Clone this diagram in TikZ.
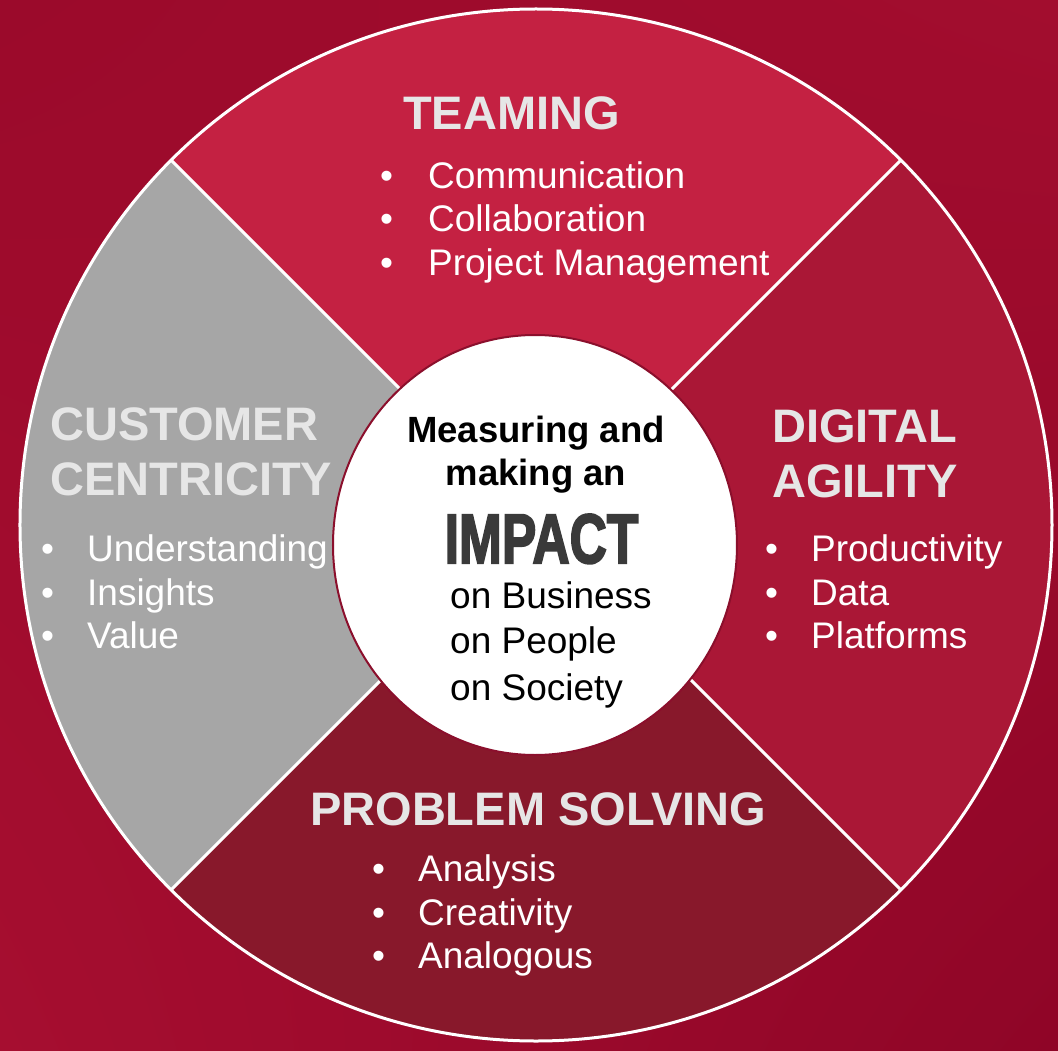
\documentclass[tikz,border=0pt]{standalone}
\usepackage{fontspec}
\setmainfont{Liberation Sans}
\newfontfamily\impactfont{Liberation Sans}[FakeBold=3]
\usepackage{tikz}
\usetikzlibrary{positioning}
\usetikzlibrary{shadings}
\definecolor{bgTL}{HTML}{9B0A2B}
\definecolor{bgTR}{HTML}{A20D2E}
\definecolor{bgBL}{HTML}{A60E30}
\definecolor{bgBR}{HTML}{8F0527}
\definecolor{teamred}{HTML}{C42142}
\definecolor{digitalred}{HTML}{AA1736}
\definecolor{problemred}{HTML}{88182B}
\definecolor{custgray}{HTML}{A6A6A6}
\definecolor{ringred}{HTML}{8B0F2C}
\definecolor{headgray}{HTML}{E6E6E6}
\definecolor{impactgray}{HTML}{3A3A3A}

\begin{document}
\begin{tikzpicture}[x=1pt, y=1pt,
		heading/.style={anchor=base west, inner sep=0pt, text=headgray, font=\fontsize{47}{55}\selectfont\bfseries},
		item/.style={anchor=base west, inner sep=0pt, text=white, font=\fontsize{37}{43}\selectfont},
		centerline/.style={anchor=base, inner sep=0pt, font=\fontsize{36.5}{43}\selectfont\bfseries},
		online/.style={anchor=base west, inner sep=0pt, font=\fontsize{37}{43}\selectfont},
		divider/.style={draw=white, line width=3pt}]
			% background
			\useasboundingbox (-536,-525) rectangle (522,525);
			\shade[upper left=bgTL, upper right=bgTR, lower left=bgBL, lower right=bgBR] (-536,-525) rectangle (522,525);
			% the four quarters
			\fill[teamred] (0,0) -- (45:516pt) arc[start angle=45, end angle=135, radius=516pt] -- cycle;
			\fill[custgray] (0,0) -- (135:516pt) arc[start angle=135, end angle=225, radius=516pt] -- cycle;
			\fill[problemred] (0,0) -- (225:516pt) arc[start angle=225, end angle=315, radius=516pt] -- cycle;
			\fill[digitalred] (0,0) -- (-45:516pt) arc[start angle=-45, end angle=45, radius=516pt] -- cycle;
			\foreach \a in {45,135,225,315} \draw[divider] (0,0) -- (\a:516pt);
			\draw[divider] (0,0) circle (516pt);
			% hub
			\draw[fill=white, draw=ringred, line width=2pt] (-1,-20) ellipse [x radius=202pt, y radius=210pt];
			\node[centerline] (measuring) at (0,83) {Measuring and};
			\node[centerline] (making) at (0,40) {making an};
			\node[anchor=base, inner sep=0pt, text=impactgray] (impact) at (5.5,-38) {\scalebox{0.92}[1.25]{\fontsize{56}{56}\impactfont\bfseries IMPACT}};
			\node[online] (business) at (-86,-83) {on Business};
			\node[online] (people) at (-86,-128) {on People};
			\node[online] (society) at (-86,-175) {on Society};
			% headings
			\node[heading] (teaming) at (-133,395) {TEAMING};
			\node[heading] (customer) at (-486,85) {CUSTOMER};
			\node[heading] (centricity) at (-486,30) {CENTRICITY};
			\node[heading] (digital) at (236,83) {DIGITAL};
			\node[heading] (agility) at (236,28) {AGILITY};
			\node[heading] (problem) at (-226,-300) {PROBLEM SOLVING};
			% bullet lists
			\foreach \txt [count=\i] in {Communication,Collaboration,Project Management}
				\node[item] (team\i) at (-108,{380-43.5*\i}) {\llap{\textbullet\hspace{35pt}}\txt};
			\foreach \txt [count=\i] in {Understanding,Insights,Value}
				\node[item] (cust\i) at (-449,{7-43.5*\i}) {\llap{\textbullet\hspace{33pt}}\txt};
			\foreach \txt [count=\i] in {Productivity,Data,Platforms}
				\node[item] (dig\i) at (275,{7-43.5*\i}) {\llap{\textbullet\hspace{33pt}}\txt};
			\foreach \txt [count=\i] in {Analysis,Creativity,Analogous}
				\node[item] (prob\i) at (-118,{-313-43.5*\i}) {\llap{\textbullet\hspace{33pt}}\txt};
\end{tikzpicture}
\end{document}
